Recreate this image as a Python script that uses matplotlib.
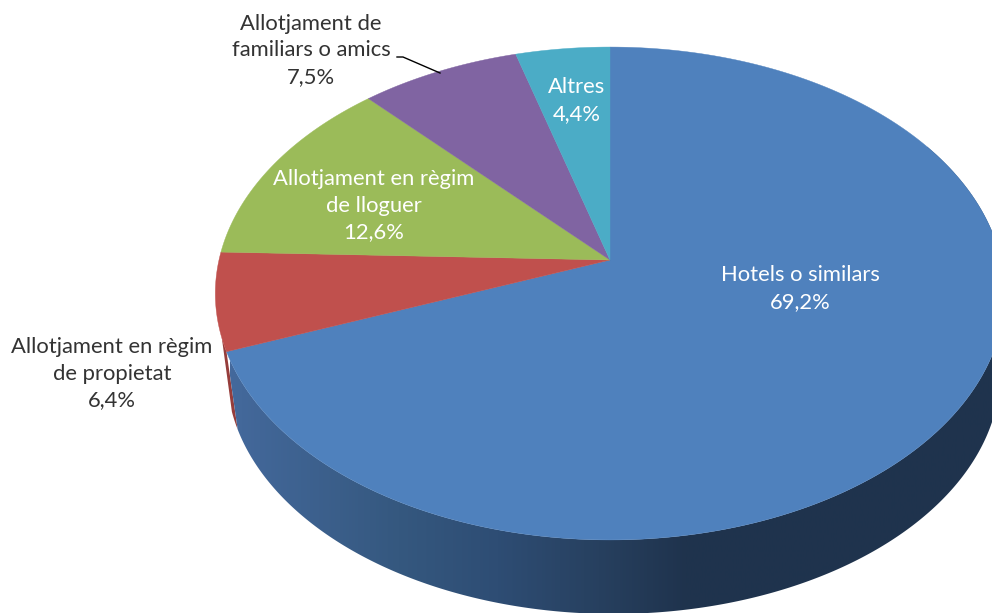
import numpy as np
import matplotlib
matplotlib.use('Agg')
import matplotlib.pyplot as plt
from matplotlib.colors import LinearSegmentedColormap
from matplotlib.patches import Polygon

labels = ['Hotels o similars', 'Allotjament en règim\nde propietat', 'Allotjament en règim\nde lloguer',
          'Allotjament de\nfamiliars o amics', 'Altres']
values = [69.2, 6.4, 12.6, 7.5, 4.4]
value_text = ['69,2%', '6,4%', '12,6%', '7,5%', '4,4%']
colors = ['#4F81BD', '#C0504D', '#9BBB59', '#8064A2', '#4BACC6']

# perspective of the pie, in pixels
cx, cy = 610, 260
A, B, k = 391, 241.9, 0.1359
shrink, depth, shift = 0.98, 79.6, 3.5

def top(a):
    u, v = np.sin(a), -np.cos(a)
    w = 1 - k * v
    return np.column_stack([cx + A * u / w, cy + B * v / w])

def bottom(a):
    u, v = np.sin(a), -np.cos(a)
    w = 1 - k * v
    return np.column_stack([cx + shift + shrink * A * u / w, cy + depth + shrink * B * v / w])

def wall(a0, a1, a2=None):
    # a2 lets the bottom rim stop earlier than the top one (left silhouette)
    if a2 is None:
        a2 = a1
    return np.vstack([top(np.linspace(a0, a1, 400)), bottom(np.linspace(a0, a2, 400))[::-1]])

fig = plt.figure(figsize=(9.92, 6.13), dpi=100)
ax = fig.add_axes([0, 0, 1, 1])

edges = np.radians(np.cumsum([0] + values) / sum(values) * 360)

# side wall, red sliver first and then the blue gradient clipped to its outline
ax.add_patch(Polygon(wall(edges[1], np.radians(252), np.radians(253)), closed=True, color='#963D3B', lw=0, zorder=1))

wall_cmap = LinearSegmentedColormap.from_list('wall', [
    (0.0, '#44699C'), (0.22, '#35587F'), (0.35, '#2E4D74'), (0.485, '#27405F'), (0.6, '#1F334D'), (1.0, '#1F344E')])
gradient = wall_cmap(np.linspace(0, 1, 512)).reshape(1, 512, 4)
im = ax.imshow(gradient, extent=[230, 992, 613, 0], aspect='auto', zorder=2)
outline = Polygon(wall(np.radians(60), edges[1]), closed=True, transform=ax.transData)
im.set_clip_path(outline)

ax.set_xlim(0, 992)
ax.set_ylim(613, 0)
ax.axis('off')

# top face
for i in range(len(values)):
    a = np.linspace(edges[i], edges[i + 1], 200)
    pts = np.vstack([[cx, cy], top(a)])
    ax.fill(pts[:, 0], pts[:, 1], color=colors[i], lw=0.3, zorder=3)

# labels
label_pos = [(800, 288.5), (112, 373.5), (374, 205.5), (311, 50.5), (577, 100.5)]
label_col = ['white', '#333333', 'white', '#333333', 'white']
for lab, val, pos, col in zip(labels, value_text, label_pos, label_col):
    ax.text(pos[0], pos[1], lab + '\n' + val, ha='center', va='center', color=col,
            family='Lato', fontsize=15.8, linespacing=1.43, zorder=5)

# leader line for the purple slice
ax.plot([397, 403, 440], [57, 57, 73], color='black', lw=1, zorder=4)

fig.savefig('out.png', dpi=100)
